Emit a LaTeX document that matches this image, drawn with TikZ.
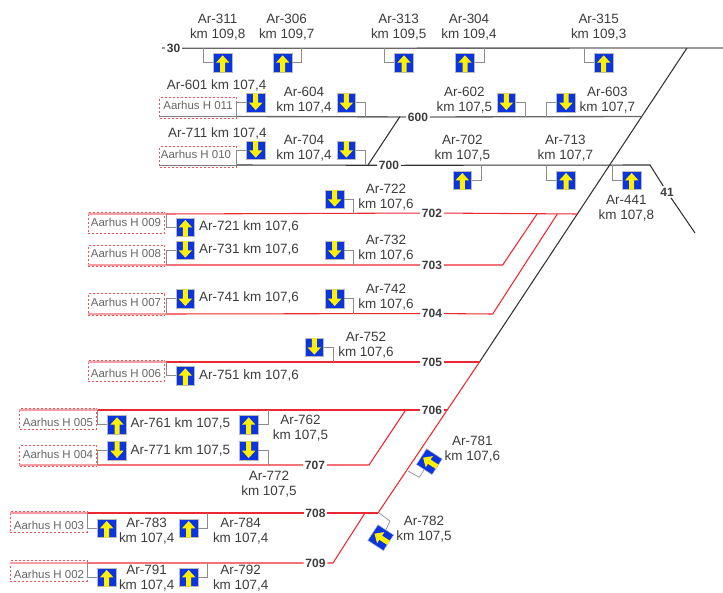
\documentclass[tikz,border=0pt]{standalone}
\usepackage{fontspec}
\setmainfont{Liberation Sans}

\definecolor{signalblue}{RGB}{8,52,226}
\definecolor{signalyellow}{RGB}{255,240,0}
\definecolor{labelgrey}{RGB}{60,60,60}
\definecolor{trackred}{RGB}{236,40,48}

\tikzset{every picture/.style={line width=0.75pt}}
\tikzset{
	sigbox/.style={draw=gray!55,line width=0.4pt,fill=signalblue,minimum size=14pt,inner sep=0pt},
	sigfill/.style={fill=signalyellow},
	stalk/.style={draw=gray!90,line width=0.5pt},
	blacktrack/.style={draw=black!80,line width=0.8pt},
	greytrack/.style={draw=black!60,line width=1pt},
	redtrack/.style={draw=trackred,line width=0.8pt},
	palegrey/.style={draw=black!50,line width=0.7pt},
	palered/.style={draw=trackred!45,line width=0.9pt},
	hbox/.style={draw=trackred!80,dash pattern=on 1.5pt off 1.5pt,line width=0.75pt,minimum width=57.5pt,minimum height=16pt,inner sep=0pt},
	htext/.style={text=black!60,font=\fontsize{8.6}{10}\selectfont,inner sep=0pt},
	tracklabel/.style={text=labelgrey,font=\fontsize{9}{10}\selectfont\bfseries,inner sep=1pt},
	siglabel/.style={text=labelgrey,font=\fontsize{10.1}{11.2}\selectfont,align=center,inner sep=0pt}
}

\newcommand{\sigarrow}[3]{\fill[sigfill,shift={(#1,#2)},rotate=#3] (0,-7.4) -- (6.7,0) -- (2.5,0) -- (2.5,9.3) -- (-2.5,9.3) -- (-2.5,0) -- (-6.7,0) -- cycle ;}
\newcommand{\sigup}[3]{\node[sigbox] (#1) at (#2,#3) {}; \sigarrow{#2}{#3}{0}}
\newcommand{\sigdown}[3]{\node[sigbox] (#1) at (#2,#3) {}; \sigarrow{#2}{#3}{180}}
\newcommand{\sigturned}[3]{\node[sigbox,rotate=57] (#1) at (#2,#3) {}; \sigarrow{#2}{#3}{-57}}
\newcommand{\stalkto}[3]{\coordinate (#1e) at (#3); \draw[stalk] (#1.#2) -| (#1e);}

\begin{document}
\begin{tikzpicture}[x=0.75pt,y=0.75pt,yscale=-1,xscale=1]
	\useasboundingbox (0,0) rectangle (723,592);

	% Text Node
	\node[tracklabel] (l30) at (173.5,48.3) {30};
	\node[tracklabel] (l600) at (418,117) {600};
	\node[tracklabel] (l700) at (389,165.3) {700};
	\node[tracklabel] (l41) at (667,192) {41};
	\node[tracklabel] (l702) at (432,213) {702};
	\node[tracklabel] (l703) at (432,265) {703};
	\node[tracklabel] (l704) at (432,313.5) {704};
	\node[tracklabel] (l705) at (432,362) {705};
	\node[tracklabel] (l706) at (432,410) {706};
	\node[tracklabel] (l707) at (315,465) {707};
	\node[tracklabel] (l708) at (315.5,513) {708};
	\node[tracklabel] (l709) at (315.5,563) {709};

	%Track junctions
	\coordinate (a30) at (162,48);
	\coordinate (b30) at (723,48);
	\coordinate (top) at (687,48);
	\coordinate (a600) at (236.7,116.5);
	\coordinate (b600) at (641,116.5);
	\coordinate (x600) at (400,116.5);
	\coordinate (a700) at (236.7,165);
	\coordinate (x700) at (368,165);
	\coordinate (b700) at (650,165);
	\coordinate (end41) at (695,233);
	\coordinate (a702) at (166,214);
	\coordinate (b702) at (577.7,214);
	\coordinate (x703) at (537,214);
	\coordinate (x704) at (557.3,214);
	\coordinate (a703) at (166,265);
	\coordinate (b703) at (502.7,265);
	\coordinate (a704) at (166,314);
	\coordinate (b704) at (492.7,314);
	\coordinate (a705) at (166,362);
	\coordinate (b705) at (479.5,362);
	\coordinate (a706) at (97.7,410);
	\coordinate (b706) at (447,410);
	\coordinate (x707) at (405.7,410);
	\coordinate (a707) at (97.7,465);
	\coordinate (b707) at (369,465);
	\coordinate (a708) at (87,513);
	\coordinate (b708) at (378,513);
	\coordinate (x709) at (365,513);
	\coordinate (a709) at (87,563);
	\coordinate (b709) at (333,563);

	%Straight Lines
	\draw[greytrack] (a30) -- (l30) -- (b30);
	\draw[greytrack] (a600) -- (l600) -- (b600);
	\draw[blacktrack] (a700) -- (l700) -- (b700) -- (l41) -- (end41);
	\draw[blacktrack] (x600) -- (x700);
	\draw[blacktrack] (top) -- (b705);
	\draw[redtrack] (a702) -- (l702) -- (b702);
	\draw[redtrack] (a703) -- (l703) -- (b703) -- (x703);
	\draw[redtrack] (a704) -- (l704) -- (b704) -- (x704);
	\draw[redtrack] (a705) -- (l705) -- (b705);
	\draw[redtrack] (b705) -- (b708);
	\draw[redtrack] (a706) -- (l706) -- (b706);
	\draw[redtrack] (a707) -- (l707) -- (b707) -- (x707);
	\draw[redtrack] (a708) -- (l708) -- (b708);
	\draw[redtrack] (a709) -- (l709) -- (b709) -- (x709);

	%Shape: Station boxes
	\node[hbox] (h011) at (198.3,108) {};
	\node[hbox] (h010) at (198.3,157) {};
	\node[hbox] (h009) at (126.6,223) {};
	\node[hbox] (h008) at (126.6,256) {};
	\node[hbox] (h007) at (126.6,304.5) {};
	\node[hbox] (h006) at (126.6,371) {};
	\node[hbox] (h005) at (58.3,419) {};
	\node[hbox] (h004) at (58.3,456) {};
	\node[hbox] (h003) at (48.8,522) {};
	\node[hbox] (h002) at (48.8,571) {};

	%Straight Lines
	\draw[palegrey] (h011.west |- a600) -- (a600);
	\draw[palegrey] (h010.west |- a700) -- (a700);
	\draw[palered] (h009.west |- a702) -- (a702);
	\draw[palered] (h008.west |- a703) -- (a703);
	\draw[palered] (h007.west |- a704) -- (a704);
	\draw[palered] (h006.west |- a705) -- (a705);
	\draw[palered] (h005.west |- a706) -- (a706);
	\draw[palered] (h004.west |- a707) -- (a707);
	\draw[palered] (h003.west |- a708) -- (a708);
	\draw[palered] (h002.west |- a709) -- (a709);

	% Text Node
	\node[htext] (h011t) at (198,105) {Aarhus H 011};
	\node[htext] (h010t) at (196,154) {Aarhus H 010};
	\node[htext] (h009t) at (126,222) {Aarhus H 009};
	\node[htext] (h008t) at (126,253.7) {Aarhus H 008};
	\node[htext] (h007t) at (126,302) {Aarhus H 007};
	\node[htext] (h006t) at (126,373) {Aarhus H 006};
	\node[htext] (h005t) at (58,422) {Aarhus H 005};
	\node[htext] (h004t) at (58,454) {Aarhus H 004};
	\node[htext] (h003t) at (49,525) {Aarhus H 003};
	\node[htext] (h002t) at (49,574) {Aarhus H 002};

	%Shape: Signals
	\sigup{s311}{222.7}{62.7}
	\sigup{s306}{282.7}{62.7}
	\sigup{s313}{404}{62.7}
	\sigup{s304}{465}{62.7}
	\sigup{s315}{603.7}{62.7}
	\sigdown{s601}{255.7}{102.7}
	\sigdown{s604}{346.3}{102.7}
	\sigdown{s602}{506.3}{102.7}
	\sigdown{s603}{566}{102.7}
	\sigdown{s711}{255.7}{150.3}
	\sigdown{s704}{346.3}{150.3}
	\sigup{s702}{462.3}{180.3}
	\sigup{s713}{566}{180.3}
	\sigup{s441}{631.7}{180.3}
	\sigdown{s722}{334.7}{199.3}
	\sigup{s721}{185.3}{227.3}
	\sigdown{s731}{185.3}{250.3}
	\sigdown{s732}{334.7}{250.3}
	\sigdown{s741}{185.3}{298.7}
	\sigdown{s742}{334.7}{298.7}
	\sigdown{s752}{314.3}{347.3}
	\sigup{s751}{185.3}{375.7}
	\sigup{s761}{117}{424.7}
	\sigup{s762}{248.7}{424.7}
	\sigdown{s771}{117}{450.7}
	\sigdown{s772}{248.7}{450.7}
	\sigup{s783}{106.7}{528.3}
	\sigup{s784}{188.7}{528.3}
	\sigup{s791}{106.7}{577.3}
	\sigup{s792}{188.7}{577.3}
	\sigturned{s781}{429.3}{461.7}
	\sigturned{s782}{380.7}{537.7}

	%Straight Lines
	\stalkto{s311}{west}{203,48}
	\stalkto{s306}{east}{301.7,48}
	\stalkto{s313}{west}{384,48}
	\stalkto{s304}{east}{484.7,48}
	\stalkto{s315}{west}{584.7,48}
	\stalkto{s601}{west}{236.7,116.5}
	\stalkto{s604}{east}{365.3,116.5}
	\stalkto{s602}{east}{525.3,116.5}
	\stalkto{s603}{west}{546.7,116.5}
	\stalkto{s711}{west}{236.7,165}
	\stalkto{s704}{east}{365.3,165}
	\stalkto{s702}{east}{481.7,165}
	\stalkto{s713}{west}{546.7,165}
	\stalkto{s441}{west}{612.7,165}
	\stalkto{s722}{east}{353.7,214}
	\stalkto{s721}{west}{166,214}
	\stalkto{s731}{west}{166,265}
	\stalkto{s732}{east}{353.7,265}
	\stalkto{s741}{west}{166,314}
	\stalkto{s742}{east}{353.7,314}
	\stalkto{s752}{east}{333.3,362}
	\stalkto{s751}{west}{166,362}
	\stalkto{s761}{west}{97.7,410}
	\stalkto{s762}{east}{268.3,410}
	\stalkto{s771}{west}{97.7,465}
	\stalkto{s772}{east}{268.3,465}
	\stalkto{s783}{west}{87,513}
	\stalkto{s784}{east}{207.7,513}
	\stalkto{s791}{west}{87,563}
	\stalkto{s792}{east}{207.7,563}
	\coordinate (s781k) at (419.3,477.3);
	\coordinate (s781e) at (408,471);
	\draw[stalk] (s781.west) -- (s781k) -- (s781e);
	\coordinate (s782k) at (390,521);
	\coordinate (s782e) at (379,513);
	\draw[stalk] (s782.east) -- (s782k) -- (s782e);

	% Text Node
	\node[siglabel] (t311) at (217.7,27) {Ar-311\\km 109,8};
	\node[siglabel] (t306) at (286.7,27) {Ar-306\\km 109,7};
	\node[siglabel] (t313) at (398.7,27) {Ar-313\\km 109,5};
	\node[siglabel] (t304) at (469,27) {Ar-304\\km 109,4};
	\node[siglabel] (t315) at (598.7,27) {Ar-315\\km 109,3};
	\node[siglabel] (t601) at (216.7,85.7) {Ar-601 km 107,4};
	\node[siglabel] (t604) at (304,100) {Ar-604\\km 107,4};
	\node[siglabel] (t602) at (464.3,100) {Ar-602\\km 107,5};
	\node[siglabel] (t603) at (607.3,100) {Ar-603\\km 107,7};
	\node[siglabel] (t711) at (217.3,133.3) {Ar-711 km 107,4};
	\node[siglabel] (t704) at (304,148) {Ar-704\\km 107,4};
	\node[siglabel] (t702) at (462.3,148) {Ar-702\\km 107,5};
	\node[siglabel] (t713) at (565.3,148) {Ar-713\\km 107,7};
	\node[siglabel] (t441) at (626.3,208) {Ar-441\\km 107,8};
	\node[siglabel] (t722) at (386,197.5) {Ar-722\\km 107,6};
	\node[siglabel] (t721) at (249,226) {Ar-721 km 107,6};
	\node[siglabel] (t731) at (249,249.3) {Ar-731 km 107,6};
	\node[siglabel] (t732) at (386,248.3) {Ar-732\\km 107,6};
	\node[siglabel] (t741) at (249,297.7) {Ar-741 km 107,6};
	\node[siglabel] (t742) at (386,296.7) {Ar-742\\km 107,6};
	\node[siglabel] (t752) at (366,345) {Ar-752\\km 107,6};
	\node[siglabel] (t751) at (249,375) {Ar-751 km 107,6};
	\node[siglabel] (t761) at (180.3,423.3) {Ar-761 km 107,5};
	\node[siglabel] (t762) at (300.5,428) {Ar-762\\km 107,5};
	\node[siglabel] (t771) at (180.3,450) {Ar-771 km 107,5};
	\node[siglabel] (t772) at (269,484) {Ar-772\\km 107,5};
	\node[siglabel] (t783) at (146.7,531.3) {Ar-783\\km 107,4};
	\node[siglabel] (t784) at (240.7,531.3) {Ar-784\\km 107,4};
	\node[siglabel] (t791) at (146.7,578.5) {Ar-791\\km 107,4};
	\node[siglabel] (t792) at (240.7,578.5) {Ar-792\\km 107,4};
	\node[siglabel] (t781) at (472.3,449) {Ar-781\\km 107,6};
	\node[siglabel] (t782) at (424,529) {Ar-782\\km 107,5};
\end{tikzpicture}
\end{document}
